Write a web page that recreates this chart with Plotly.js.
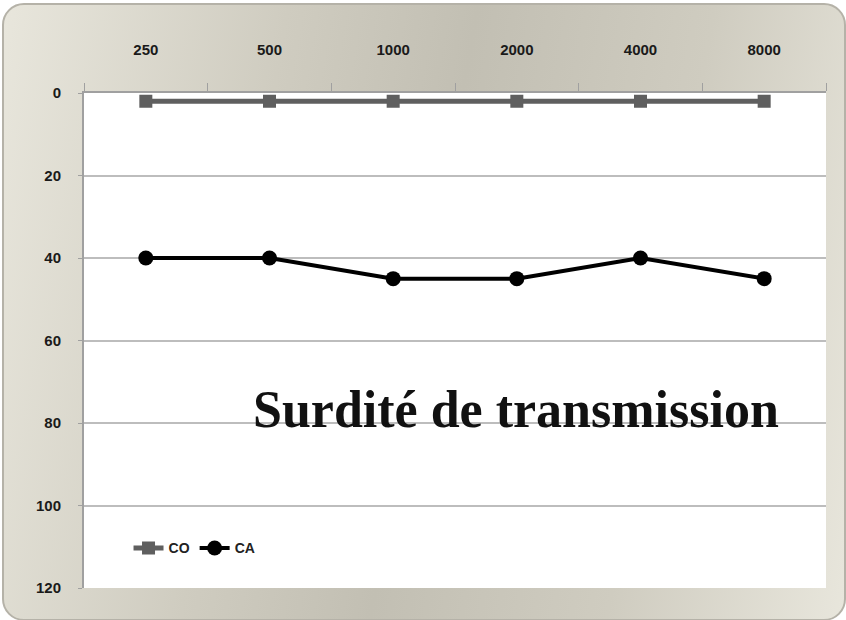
<!DOCTYPE html>
<html>
<head>
<meta charset="utf-8">
<script src="https://cdn.plot.ly/plotly-3.0.1.min.js"></script>
<style>
html,body{margin:0;padding:0;background:#ffffff;}
#wrap{position:absolute;left:0;top:0;width:846px;height:620px;}
#frame{position:absolute;left:2px;top:3px;width:840px;height:614px;border:2px solid #b5b2a8;border-radius:22px;
 background:linear-gradient(100deg,#e8e6dc 0%,#cfccc0 30%,#c2bfb3 50%,#cfccc0 75%,#e8e6dc 100%);}
#chart{position:absolute;left:0;top:0;width:846px;height:620px;}
</style>
</head>
<body>
<div id="wrap"><div id="frame"></div><div id="chart"></div></div>
<script>
const frequencies = ["250","500","1000","2000","4000","8000"];
const coValues = [2,2,2,2,2,2];
const caValues = [40,40,45,45,40,45];
const yTicks = [0,20,40,60,80,100,120];
const chartLabel = "Surdité de transmission";

const tickFont = {family: "Liberation Sans Narrow, Liberation Sans, Arial", size: 15, color: "#1a1a1a", weight: "bold"};

const traces = [
  {x: frequencies, y: coValues, name: "CO", type: "scatter", mode: "lines+markers",
   line: {color: "#5f5f5f", width: 5},
   marker: {symbol: "square", size: 13, color: "#5f5f5f"}},
  {x: frequencies, y: caValues, name: "CA", type: "scatter", mode: "lines+markers",
   line: {color: "#000000", width: 4},
   marker: {symbol: "circle", size: 15, color: "#000000"}}
];

const layout = {
  width: 846, height: 620,
  margin: {l: 84, r: 20, t: 93, b: 32},
  paper_bgcolor: "rgba(0,0,0,0)",
  plot_bgcolor: "#ffffff",
  showlegend: true,
  legend: {orientation: "h", x: 0.06, y: 0.08, xanchor: "left", yanchor: "middle",
    bgcolor: "rgba(0,0,0,0)", font: {family: "Liberation Sans Narrow, Liberation Sans, Arial", size: 14, color: "#222", weight: "bold"},
    itemwidth: 30, tracegroupgap: 0},
  xaxis: {type: "category", range: [-0.5, 5.5], side: "top", showgrid: false, showline: true, linecolor: "#a0a0a0", linewidth: 2,
    ticks: "outside", tickson: "boundaries", ticklen: 8, tickcolor: "#a0a0a0",
    tickfont: tickFont, fixedrange: true, ticklabelstandoff: 30},
  yaxis: {range: [120, 0], tickvals: yTicks, showgrid: true, gridcolor: "#bdbdbd", gridwidth: 2,
    showline: true, linecolor: "#a0a0a0", linewidth: 2, ticks: "outside", ticklen: 4, tickcolor: "#a0a0a0",
    tickfont: tickFont, zeroline: false, fixedrange: true, ticklabelstandoff: 14},
  annotations: [{text: "<b>" + chartLabel + "</b>", xref: "paper", yref: "paper", x: 0.582, y: 0.36,
    xanchor: "center", yanchor: "middle", showarrow: false,
    font: {family: "Liberation Serif, Times New Roman, serif", size: 52, color: "#111"}}]
};

Plotly.newPlot("chart", traces, layout, {displayModeBar: false, staticPlot: true});
</script>
</body>
</html>
